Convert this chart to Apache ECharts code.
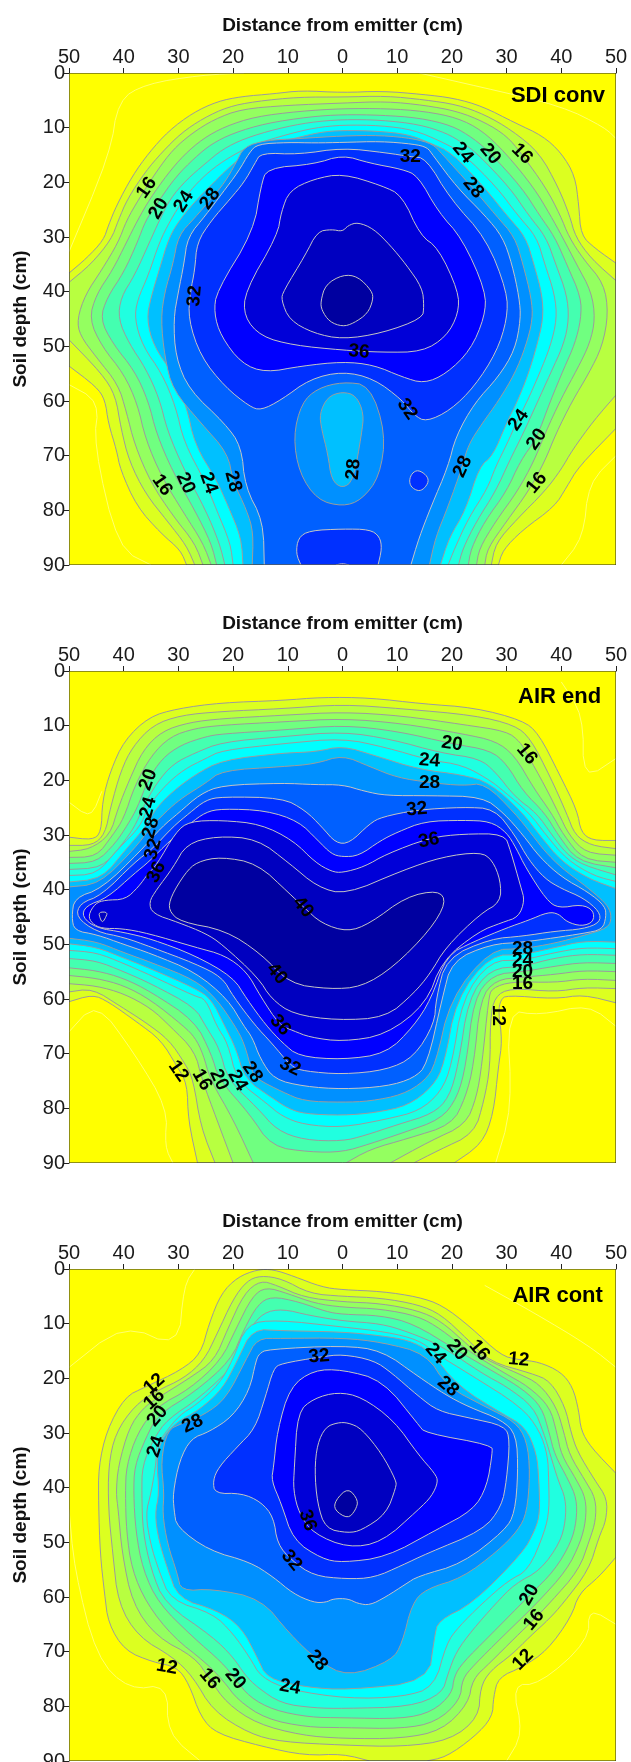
<!DOCTYPE html>
<html><head><meta charset="utf-8">
<style>html,body{margin:0;padding:0;background:#fff}#c{width:631px;height:1762px}</style>
<script src="https://cdn.jsdelivr.net/npm/echarts@6/dist/echarts.min.js"></script>
</head><body><div id="c"></div>
<script>
const xTicks=[-50,-40,-30,-20,-10,0,10,20,30,40,50];
const bandColor={10:'#ffff00',12:'#dcff20',14:'#b8ff40',16:'#94ff60',18:'#70ff80',20:'#44ffb0',22:'#20ffe0',24:'#00ffff',26:'#00c0ff',28:'#0090ff',30:'#0060ff',32:'#0030ff',34:'#0000ff',36:'#0000d8',38:'#0000c0',40:'#0000a0'};

// ---- SDI conv contours [distance, depth] ----
const sdi12=[[-50,36.6],[-46.8,33.9],[-43.7,30.6],[-42.8,27.9],[-41.3,24.2],[-38.4,18.8],[-35.4,14.6],[-31.8,10.6],[-27.4,7.3],[-22.9,5.2],[-18.5,4.3],[-12.6,3.8],[-7.5,3.2],[0,3.6],[7.2,3.3],[14.6,3.9],[20.4,4.6],[25.6,6.1],[31.5,9.1],[36.6,11.5],[40,14.6],[42.5,18.8],[43.2,24.2],[43.6,29.7],[46.2,32.1],[50,34.8],[50,65],[43.2,72],[41,75.7],[38.8,79.3],[32.9,83.6],[29.3,87.3],[28.5,90],[-28.5,90],[-29.6,87.3],[-33.2,84.2],[-37.6,79.3],[-40.6,72.6],[-41.3,69],[-42.8,64.1],[-43.4,59.8],[-45,57.4],[-50,53.6]];
const sdi14=[[-50,38.3],[-46,35],[-42.3,30.5],[-41,27],[-39.3,23],[-36,18],[-33,14.5],[-29.5,11],[-25.5,8.3],[-21,6.2],[-16,5.2],[-8,4.4],[0,4.4],[8,4.2],[15,4.9],[21,5.8],[26,7.6],[31,10.5],[36,14.6],[39.5,21],[41.5,26],[42.6,30],[45.5,34],[50,38],[50,58.9],[46,63.5],[42,69],[40,72.5],[37,76.5],[32,81.5],[28,86],[27.2,90],[-27,90],[-28.5,86.5],[-32,82],[-36,77],[-39,71],[-40.5,65],[-41.5,59],[-44,55],[-50,48.8]];
const sdi16=[[-48.5,45],[-47,40.5],[-44,36],[-41,31],[-39.5,27],[-37.2,23],[-34,18],[-31,14],[-27.5,11],[-23.5,8.5],[-18.5,6.6],[-10,5.9],[0,5.5],[8,5.2],[15,5.9],[21,7],[26,9],[30,11.5],[32.6,14.6],[37.2,21],[39.8,26],[41.4,30],[44,34],[47.8,38.5],[48.6,44],[47.5,50],[45,55],[42,60],[39,66],[37,71],[34,76.5],[30,82],[26.5,87],[26,90],[-25.5,90],[-27,86],[-31,81],[-35,75],[-38,68],[-39.5,62],[-41,57],[-45,52],[-48,48]];
const sdi18=[[-46.3,45],[-45,40.5],[-42,36],[-39.5,31],[-37.5,27],[-35.2,23],[-32,18.5],[-29,15],[-25.5,12],[-21.5,9.8],[-16,8],[-8,7],[0,6.5],[8,6.5],[15,7],[21,8.2],[25.5,10.5],[29.8,14.6],[35,21],[38,26],[40.2,30],[42.8,35],[45.5,40],[46.2,45],[45.2,49.5],[43,54],[40,59.5],[37,66],[35,71],[32,76.5],[28,82],[25,87],[24.5,90],[-24,90],[-25.5,86],[-29,80.5],[-33,74],[-36,67],[-37.5,60.5],[-40,55],[-44,50]];
const sdi20=[[-44.3,45],[-43,41],[-40,36.5],[-37.5,31],[-36,27],[-34,24],[-30.5,19],[-27,15.5],[-24,13],[-20,11],[-14,9.2],[-6,8],[0,7.6],[7,7.7],[14,8.2],[20,9.6],[24,12],[27,14.6],[32.8,21],[36,26],[38.8,30],[41,35],[43.6,41],[43.6,45],[42.5,49.5],[40.5,54],[38,60],[35.5,66.8],[32.5,71],[30,76.5],[26,82],[23.5,87],[23,90],[-23,90],[-24,86],[-27,80],[-31,73],[-34,66],[-35.5,60],[-38,54.5],[-42,49.5]];
const sdi22=[[-41,45],[-40.5,41],[-38,37],[-35.3,31],[-33.5,27],[-31.5,23],[-28.5,19.5],[-25,16.5],[-22,14],[-18,12],[-12,10.2],[-6,9],[0,8.5],[7,8.6],[14,9.4],[19,11],[22,12.8],[24.5,14.6],[30.6,21],[34,26],[37.2,30],[39,35],[41,40.5],[41.4,45],[40.5,49.5],[38,55],[35.5,60.5],[33,66],[30.5,71],[28,76.5],[24.5,82],[22,87],[21.2,90],[-21.5,90],[-22.5,86],[-25,80],[-29,72.5],[-32,65.5],[-33.5,59.5],[-36,54],[-39,49.5]];
const sdi24=[[-38,45],[-37.5,41.5],[-35.5,37],[-33.5,31],[-31.5,27],[-29,23],[-26.5,20],[-23.5,17.3],[-20,15],[-16,13],[-10,11.2],[-5,10],[0,9.5],[7,9.6],[13,10.4],[18,12.5],[21.9,14.6],[28.3,21],[32,26],[35.5,30],[37,35],[38.8,40.5],[39.2,45],[38,50],[36,55],[33.8,60],[32,63.5],[30,68],[28,72],[26.5,76],[23,81.5],[20.5,87],[19.3,90],[-20,90],[-20.5,86],[-23,80],[-25,75],[-29,67.5],[-30.5,61],[-33,55],[-36.5,50]];
const sdi26=[[-35.8,45],[-35,41],[-33.5,36],[-31.7,30],[-29.5,26.5],[-26.5,23],[-23.5,20],[-21,17.5],[-18,15],[-15,13.5],[-9,12],[-4,10.8],[0,10.5],[6,10.6],[12,11.2],[16,12.8],[20,14.6],[26,21],[30,26],[33.5,30],[35,35],[36.5,40.5],[36.7,45],[35.5,50],[34,55],[32,60],[30,64],[27.5,70],[25,72],[22.5,80],[19.5,85],[17.9,90],[-18.2,90],[-18.5,85],[-21,79],[-23,74.5],[-27,68],[-28.5,61],[-31,55],[-34.5,50]];
const sdi28=[[-33.2,45],[-32.5,40],[-31,35],[-30,29.7],[-27,26.5],[-24,23],[-21.5,20],[-19.5,16.5],[-18,13.5],[-14,12.3],[-8,12],[0,11.5],[7,11.4],[13,12],[16.5,13],[18,14.6],[23.8,21],[28,26],[31.5,30],[33,35],[34.5,41],[34.8,45],[33.5,50],[31.5,55],[28.5,60],[25.6,64],[23,68],[21.9,72],[19.3,79.3],[17,85],[15.9,90],[-16.5,90],[-16.3,84],[-17.5,80],[-20,74.7],[-21,69.5],[-25.9,64],[-31,58],[-32.5,52]];
const sdi30=[[-30.9,45],[-30,40],[-29,35],[-28.3,30],[-25,26],[-22,22],[-19,18],[-17,14.5],[-15.5,13],[-10,12.7],[-5,12.8],[0,12.7],[7,12.5],[13,13],[15.5,13.6],[16.5,15],[21,21],[26,26],[29.3,30],[31,35],[32.3,41],[32.6,45],[31.5,50.7],[28.5,55.6],[24.1,60.4],[20.7,66.5],[19.3,72],[16.2,79.3],[14,85],[12.5,90],[-14.3,90],[-14.5,82],[-17.8,75.7],[-18.5,68.3],[-21.5,64.1],[-28,58],[-30.5,52]];
const sdiIsland30=[[0,56.5],[5,57.1],[7.9,65.9],[6.8,73.8],[3.5,78.1],[0,79.3],[-4.6,78.1],[-7.9,73.2],[-9,66.5],[-7.5,60.4],[-4.6,57.7]];
const sdiIsland28=[[0,58.3],[2.5,59],[3.9,62.3],[3.5,66],[2,74.5],[0,76],[-2,74.5],[-2.7,69.6],[-3.8,65.3],[-4.2,62.3],[-2.7,59.2]];
const sdiBlob32a=[[13.8,72.6],[15.3,73.5],[15.8,74.7],[14.9,76.1],[13.8,76.5],[12.5,75.7],[12.2,74.5],[12.7,73.2]];
const sdiBlob32b=[[0,83.4],[5,83.5],[6.8,84.8],[7.2,87],[6.5,90],[-7.6,90],[-8.5,87.9],[-8.1,85],[-6,83.7]];
const sdiBlob34=[[-1.2,90],[0,89.7],[1.2,90]];
const sdi32=[[-28.2,45],[-27.8,40],[-27,36],[-26.6,31],[-24,27],[-20.5,23],[-18,20],[-16,16.5],[-14.9,14.6],[-8,14.9],[0,13.7],[8,14.6],[12.4,15.3],[15.3,15.6],[19.7,23],[26.3,30.3],[30.1,40],[30.1,45],[28.2,51],[24.1,57.4],[19.7,61.7],[15.3,63.8],[13.1,62.6],[10.9,59.8],[5.7,55.9],[0,54.6],[-6,56],[-11.2,59.8],[-14.9,61.7],[-17,61],[-21.5,57.4],[-25.9,51.9]];
const sdi34=[[-23.5,43.9],[-23,39.9],[-16.3,29],[-14.9,20.6],[-13.8,17.4],[-5.3,16.7],[0,15],[5,16.5],[10.9,17.6],[13.8,18.8],[17.5,25.4],[21.9,30.3],[26.2,39.9],[26,44.6],[23.4,50.7],[19,55],[14.9,56.8],[10.9,55.6],[5.7,53.4],[0,52.8],[-7.5,53.6],[-14.1,54.8],[-18.5,53.1],[-22.2,48.2]];
const sdi36=[[-18,44.6],[-17.8,39.9],[-11.9,29.7],[-11.2,25.4],[-9.7,21.5],[-5.3,19.4],[0,18.4],[7.2,20.6],[10.9,22.4],[14.2,29.7],[17.5,32],[21.2,39.9],[21.2,44],[19,48.2],[14.6,51],[7.2,51.1],[0,50.7],[-9,49.8],[-14.9,48.2]];
const sdi38=[[-11.2,41.5],[-10.8,39.9],[-6.8,33.3],[-4.6,29],[-2,28.6],[0,29],[1,27.9],[2.8,27.3],[5.7,28.5],[8.7,31.5],[11.6,35],[14.6,39.3],[14.9,42.7],[14.6,44.9],[7.2,47.6],[0,48.7],[-5.3,47.6],[-9.7,45.2]];
const sdi40=[[-4,41.8],[-3.1,38.7],[0,36.9],[2.8,37.2],[5.4,39.9],[5.6,41.5],[4.6,44],[2,45.8],[0,46.4],[-2.4,45.5],[-3.8,43.4]];

// ---- AIR end contours ----
const air12=[[-50,30.4],[-45.7,30.9],[-44.1,29.5],[-43.9,23.7],[-42.4,18.2],[-39.9,12.7],[-35.4,8.4],[-30.3,6.9],[-22.2,5.8],[-11.2,5.4],[-3.8,4.8],[5,4.9],[14.6,6],[24.1,6.7],[32.9,9],[35.9,11.5],[39.6,18.8],[42.9,25.5],[43.6,29.5],[45.7,31],[50,31],[50,60.7],[44,59.2],[38.8,60],[30,59.3],[28.9,60.2],[28.5,62.4],[29.2,67.6],[28.5,72.4],[27.6,81],[25.5,86.5],[20.4,90],[-26.5,90],[-28.2,82.2],[-28.4,75.5],[-30.2,72.4],[-33.2,67.5],[-37.6,64.2],[-42.8,60.5],[-45.7,59.2],[-50,60.5]];
const air14=[[-50,31.9],[-45.7,31.9],[-43.4,29.8],[-42.4,24.9],[-40.5,18.2],[-38.4,13.9],[-34.7,9.9],[-29.6,8.1],[-22.2,7.4],[-11.2,6.9],[0,6.1],[10.9,6.9],[24.1,8.1],[31.5,9.9],[34.4,12.4],[38,19.4],[41,26.1],[42.5,30],[45.4,31.9],[50,32.5],[50,58.1],[44,57.9],[38.8,58.7],[30.7,58],[27.8,59.6],[27,63.9],[27,72.4],[25.9,78.5],[24.1,84.6],[17.5,87.7],[13,90],[-23.3,90],[-25.9,83.4],[-27.3,74.7],[-28.8,71.8],[-31.7,67.5],[-36.1,64.2],[-40.5,61.4],[-45.7,58.1],[-50,58.7]];
const air16=[[-50,33],[-46.2,32.6],[-42.5,30],[-41,25],[-39,20],[-36.5,14.5],[-33,11],[-28,9.4],[-22,8.7],[-11,8.1],[0,7.5],[11,8.2],[22,9.8],[30,11],[32.5,13],[33.7,15.1],[37,21],[39.5,26],[41.4,30],[44.5,33.3],[50,33.7],[50,56.6],[44,56.3],[38.8,57],[31,56.8],[27.3,58],[26.7,60],[25.5,72],[24.5,78],[22.5,83],[16,86],[8.7,90],[-20,90],[-23,82],[-25.7,74.7],[-27,69.5],[-31.5,65],[-35,61.7],[-40,59],[-45,57.6],[-50,57.2]];
const air18=[[-50,34.1],[-45,34],[-42,30],[-40,27],[-38,21],[-35,15.5],[-31.5,12],[-27,10.5],[-22,9.9],[-11,9.3],[0,8.7],[11,9.6],[22,11.5],[28,12.8],[31.5,15.5],[35,21.5],[38.2,26],[40.4,30],[44,34.5],[50,35],[50,55],[44,54.8],[38.8,55.5],[33,56],[28,56.5],[25.2,60],[24,72],[22.5,78],[20,83],[12,85.5],[5,87.5],[0.6,90],[-16.3,90],[-20,82],[-24.2,74.7],[-25.5,70],[-27,67],[-29,65],[-35,60.2],[-40,57.5],[-45,56.2],[-50,55.7]];
const air20=[[-50,35.2],[-45,35],[-41.5,31.5],[-39.2,28],[-37.5,25],[-35.6,20],[-33,16],[-29.5,13.5],[-25,12],[-22,11.5],[-11,10.8],[0,9.9],[10,11],[20,13.3],[27,14.5],[30,17],[33,22],[37,26],[39.4,30],[43,34.8],[50,36],[50,53.5],[44,53.3],[38.8,54],[33,55],[27.5,55.5],[24,60],[22.6,72],[21,78],[18,82],[11,84.5],[5,86.5],[0,88],[-6,88],[-13,87],[-17,81],[-22.6,74.7],[-24,70],[-27,64],[-35,58.7],[-40,56.2],[-45,54.8],[-50,54.3]];
const air22=[[-50,36.3],[-44,36],[-40.5,32],[-38,28.5],[-36.5,25],[-34,20.5],[-31,17],[-27,15],[-22,13],[-11,12],[0,11.1],[9,12.5],[18,15],[25,16],[28,18.5],[31.5,23],[35.5,26],[38.3,30],[41,33.5],[44,35.5],[50,37.3],[50,52],[44,51.8],[38.8,52.5],[33,54],[27,54.5],[23,60],[21.2,72],[19.5,78],[16.5,81],[10,83],[4,85],[0,86],[-7,85.8],[-12,84],[-15.5,80],[-21,74.7],[-22.5,69],[-25,65],[-27,61.5],[-35,57.2],[-40,55],[-45,53],[-50,52.6]];
const air24=[[-50,37.4],[-45,37.2],[-41,32.5],[-37,28.5],[-35.6,24.9],[-32.5,21],[-29,18],[-25,16],[-22,14.5],[-11,13.3],[0,12.3],[8,14],[15.9,16.3],[22,17.2],[27,20],[29.5,22],[34.2,26],[37.2,30],[41,34.5],[46,37.5],[50,38.5],[50,50.8],[44,50.6],[38.8,51.5],[33,52.9],[27,53],[21.9,60],[20,72],[18,77],[14,80.5],[8,82],[0,83.5],[-7,83],[-11,81.5],[-14,79],[-19.3,74.9],[-21,68],[-23,65],[-25,60],[-27,59.5],[-35,55.7],[-40,53.5],[-45,51.5],[-50,51.1]];
const air26=[[-50,38.6],[-44,38],[-39.5,32.5],[-36,28.5],[-34,25],[-31,22],[-27,19],[-22,16.3],[-11,15],[-5,14.8],[0,13.7],[6,15.5],[14,18],[22,19],[27,20.5],[33,26],[36,30],[40,34.8],[45,38],[50,39.8],[50,49.6],[44,49.4],[38.8,50.6],[33,51.9],[27,52],[20.8,60],[18.6,72],[16.5,76],[12,79.5],[6,80.8],[0,81.3],[-7,81],[-10,80],[-13,78],[-17.8,74.7],[-19.5,69],[-21.5,65],[-24,60],[-27,58],[-35,54.5],[-40,52.5],[-45,50.5],[-50,49.9]];
const air28=[[-50,39.5],[-44.5,39],[-38,32.5],[-35,28.5],[-31.5,25],[-29,23],[-25,20.5],[-22,18.2],[-11,17.5],[-5,17],[0,15.4],[5,17.5],[10,19.5],[15.9,20.4],[22,21],[26,20.5],[31.5,26],[34.7,30],[37,33],[40,36],[44,39],[46.8,41.3],[48.6,43.1],[49.2,45],[48.6,47],[44,48.4],[38.8,49.8],[33,50.8],[27,51],[19.7,60],[17,72],[15,75],[11,77.5],[5,78.7],[0,78.9],[-7,78.7],[-11,77],[-15.5,74.7],[-16.5,73.4],[-18,68],[-19.6,65],[-23,60],[-27,56.5],[-35,53.3],[-40,51.5],[-45,49.5],[-50,48.9]];
const air30=[[-49.5,45],[-49,41.5],[-44,39.8],[-37,33],[-33,28.5],[-30,26],[-26,22.5],[-22,20.9],[-11,20.5],[-5,20.8],[0,20.8],[4,22],[8,22.8],[16,22.8],[25.6,23],[29.5,26],[33,30],[36,34],[40,37.7],[45,40.5],[48,43],[48.2,45],[47.5,47.3],[44,48],[38.8,48.8],[33,49.6],[27,50],[20,53],[18.2,60],[15.5,72],[13,74.5],[8,76],[0,76.5],[-7,76],[-12.5,74.7],[-15,71],[-16.5,67],[-18,65],[-21,60],[-27,55],[-35,51.7],[-40,50],[-45,48.2],[-49,47.5]];
const air32=[[-48.7,45],[-48,42.5],[-44,41],[-38,35],[-34.7,32.5],[-31,28.5],[-28,26],[-25,23.6],[-22,23],[-11,23.2],[-6.8,25.5],[-3.8,28.5],[-1.2,31.5],[1.3,31.5],[5,27.9],[7.2,26.7],[13.6,25.4],[22,24.9],[27.8,25.2],[31.5,30],[34,34.5],[37,38],[40,39.8],[44,41.5],[47,44],[47.1,46],[44,47.2],[38.8,47.6],[33,48.5],[27,49],[19,52.5],[17.1,60],[16.8,64.5],[13.1,70.6],[8,73],[0,73.8],[-7,73.2],[-9.3,72.4],[-13,68],[-16,64.8],[-20,59.5],[-22,56],[-27,53.5],[-35,50.5],[-40,48.7],[-45,47.7]];
const air34=[[-47.6,45],[-47,43],[-43,41.5],[-38,37],[-35.5,35],[-31.5,31],[-28,28],[-25,25.8],[-22,25.2],[-14,25.5],[-8,27.5],[-4.5,31],[-2,33.5],[0,34],[3,33.8],[7,31],[10,29.5],[15,27.5],[22,27.3],[27,27.5],[30,29.5],[31.8,32.5],[33.5,36],[37.3,41.9],[39.5,43.4],[43.7,42.7],[45.9,43.8],[45.9,45.9],[43.7,46.7],[41,45.9],[39.5,44.4],[37.6,44.1],[34,45.6],[30,47],[24,49.5],[19,52],[16.2,60],[13,65],[8,70],[0,71.1],[-8,70.5],[-11,68],[-14,64.8],[-17.5,60],[-20,56],[-27,52],[-35,49],[-40,47.8],[-45,47]];
const air36=[[-46.5,44.7],[-45.2,42.5],[-43.4,41.9],[-39.7,41.8],[-37.3,39.5],[-35.5,37],[-34,35.5],[-30.5,29.5],[-28,27.5],[-22,27.3],[-15,28],[-9,31],[-5,35],[-2,36.7],[0,36.9],[4,35.8],[8,33.5],[15.9,30.5],[22,29.8],[29.6,29.8],[30.7,32.8],[32.6,39.5],[33.3,42],[32.2,45],[29.2,46],[24.8,47.7],[18.2,53],[15.3,60.9],[7.9,66.6],[0,67.8],[-6,67],[-9,65.8],[-11.5,64.8],[-15,59.5],[-17.5,55],[-21.5,52],[-27,50.5],[-35.5,48],[-40.3,47.1],[-44,47.1],[-45.8,46.2]];
const air38=[[-35.4,42.3],[-34.7,44.4],[-30,46],[-25,48],[-22,50],[-15.5,56],[-13,60],[-9,62.8],[-1,63.9],[7.9,63.4],[13,59],[16,55.4],[18.9,50.5],[25.2,44.4],[28.9,42.3],[28.9,38.3],[27.4,34.6],[25.2,33.1],[18.2,34],[10.9,36.5],[0.6,40.9],[-4.6,39.5],[-9.7,35.2],[-15.6,30.7],[-23,30.2],[-28.5,31.6],[-31,36],[-34,40]];
const air38b=[[-44.6,44.1],[-42.9,44.1],[-43.4,45.3],[-43.9,46],[-44.3,45.3]];
const air40=[[-31.4,41.3],[-28.8,37],[-26.6,34.9],[-22.2,34],[-15.6,35.2],[-9.7,40.7],[-7.1,43.2],[-3.8,46.2],[0.9,47.7],[5,46.2],[11.6,41.3],[17.5,40.1],[19,42.3],[16,47.4],[9.4,54.1],[3.5,57.8],[-2.4,58.2],[-9.7,57.2],[-14.9,51.7],[-21.5,47.4],[-29.6,45.9],[-31.8,43.8]];

// ---- AIR cont contours ----
const pc12=[[-15.6,0.1],[-12.6,0.1],[-9,1.3],[-3.8,3.3],[0,3.8],[7.2,4.1],[13.8,5.1],[18.2,6.6],[23.4,10.6],[28.9,15.8],[32.2,16.6],[35.9,17],[39.9,18.8],[42.1,21.6],[43.2,25.9],[43.6,29.5],[45.4,32.6],[50,37.4],[50,52.7],[46.9,56.3],[43.2,59.4],[41.8,63.7],[37.4,69.8],[32.9,72.8],[28.5,74.7],[27.6,78.3],[27.4,82],[24.1,85.6],[18.9,89.3],[15.3,90],[5,90],[0,88.7],[-6.8,89],[-14.9,87.3],[-23,85],[-25.9,82],[-28.1,75.8],[-30.3,72.8],[-34.7,71.9],[-39.8,69.8],[-42.8,64.9],[-43.5,59.4],[-44.3,52.1],[-44.6,43],[-44.6,36.2],[-43.1,29.5],[-39.8,23.4],[-36.1,21.6],[-29.5,18.5],[-25.9,15.5],[-24.4,10],[-22.2,4.5],[-19.2,1.5]];
const pc14=[[-42.8,44],[-42.8,36],[-41.5,30],[-38,25],[-34,22.3],[-29,20],[-25.3,16.7],[-23,12],[-20,5.5],[-17.5,2.2],[-15,1.2],[-11,1.8],[-6,4.5],[0,5],[7,5.3],[13.8,6.5],[18,8.3],[23,13],[27,17],[34.6,19.1],[38,20.5],[40.7,25.2],[41.8,30],[43,33.5],[46.1,38.6],[48.4,42],[48.2,46],[46.9,49],[45,55.1],[40.3,61.2],[37.8,64],[34.2,67.3],[31,70.5],[27,73.5],[25.2,76.5],[24.9,82],[19.7,86.2],[10.9,87.4],[0,87.1],[-11.2,86.5],[-17,85],[-23.7,80.8],[-27.4,74.5],[-31,71],[-37.3,67.3],[-41,61.2],[-42,52]];
const pc16=[[-41,44],[-41.4,41],[-41,36],[-39,29],[-36.5,25.5],[-34,23.7],[-28,20],[-23.4,16.7],[-21,11],[-18,4.5],[-15,2.1],[-12,3],[-7,5.2],[0,6],[7,6.3],[13.8,7.6],[18,9.5],[23,14],[26,16.5],[32.1,19.1],[36,21],[39.1,25.2],[40.5,30],[41.5,34],[44.3,38.6],[46.3,42],[46.3,46],[45.2,49.5],[43.2,55.1],[38,61],[34.8,64.3],[31.7,67.3],[27,72],[23.8,75],[23,79.5],[18.2,84.4],[10.9,85.9],[0,85.9],[-7.5,85.3],[-15.6,83.2],[-21.1,79.5],[-24.3,75],[-27,71],[-34,67.3],[-38.4,61.2],[-40.3,52]];
const pc18=[[-39.7,41],[-39.5,36],[-37.5,30],[-34,25.2],[-28,22],[-22.2,16.7],[-19.5,11],[-16.5,5],[-14,3.3],[-10,4.5],[-5,6.3],[0,7],[7,7.3],[13.8,8.6],[18,11],[23,15],[29.7,19.1],[34,21.5],[37.9,25.2],[39.2,30],[40,34],[42.8,38.6],[44.5,42],[44.5,46],[43.5,50],[41,55.1],[35.5,61.2],[29.2,67.3],[24,72.5],[21.9,75],[21.5,78.9],[17.1,82.9],[10.9,84.1],[0,83.9],[-6.6,83.8],[-14,82.3],[-19.1,78.9],[-21.8,75.3],[-25,72],[-31,67.3],[-35.8,61.2],[-38.5,55],[-39.5,48]];
const pc20=[[-38.2,41],[-38,36],[-36,31],[-33.8,26.7],[-27,22.5],[-20.4,16.7],[-18,11],[-15.5,6.5],[-13,5],[-8,6],[-3,7.8],[0,8.3],[7,8.5],[13,10],[20.8,14.8],[28.2,19.1],[33,22],[36.4,25.2],[37.8,30],[38.8,34],[41.3,38.6],[42.8,42],[42.8,46],[41.8,50],[38.8,55.1],[34.4,59.5],[26.7,67.3],[22,72],[20.4,74.5],[20,77.7],[16.4,81],[10.9,82.3],[0,82.1],[-6,82],[-12.6,80.7],[-17,78.3],[-19.6,75],[-22,72],[-27.4,67.3],[-33.6,61.2],[-36.5,55],[-37.8,48]];
const pc22=[[-36.7,41],[-36.6,36],[-34.5,31],[-32,27.5],[-26,23.5],[-18.9,16.7],[-17,11],[-14.5,8],[-11,7.3],[-6,8.5],[0,9.5],[7,10],[12,11.5],[18,14],[25.5,19.1],[30,21.5],[34.9,25.2],[36.8,30],[38,34],[39.4,38.6],[40.8,42],[40.8,46],[39.8,50],[36.2,55.1],[31.5,57.6],[28,61.2],[23.7,66.1],[20.8,70],[19.3,74],[18.2,77.7],[12.3,80.1],[0,80.4],[-5.1,80.3],[-11.2,79.5],[-15.6,76.5],[-17.8,74.3],[-20,71],[-23.7,67.3],[-32.5,61.2],[-35,55],[-36.5,48]];
const pc24=[[-36,44.8],[-35,41],[-34,35],[-34.1,32.5],[-32.6,30.2],[-29.8,26.7],[-26.8,24.9],[-22.5,21],[-20.1,16.7],[-17.5,10],[-12,9.3],[0,10.6],[8,11.5],[14,13],[17.1,15.5],[23,19.1],[32.7,25.2],[36,29.5],[37.5,34],[37.7,38.6],[37.8,44],[37,48],[34,55.1],[30.3,57],[25.5,61.2],[21.2,65.5],[19,68.5],[16.8,76.5],[10.9,78.3],[1,78.6],[-9.7,77],[-14.9,74.7],[-17,71],[-20,66.7],[-23.7,63],[-31.4,60.6],[-33.6,55.1],[-35.1,50.3]];
const pc26=[[-34.3,44.8],[-33.5,41],[-34,35],[-33.2,31.3],[-30.4,28],[-26.2,25.8],[-21.9,21.9],[-19.2,16.7],[-16.5,11],[-11,11.3],[0,11.5],[7,12.2],[12,13],[16,15],[21.2,21.5],[29.1,26.4],[33.4,28.8],[35.5,33.7],[35.9,38.6],[36.1,44.6],[35.2,47.8],[32.9,52],[23.8,61.2],[17.5,64.3],[16.8,67.3],[15.7,75.5],[1,77],[-6.8,76.5],[-13.8,74.9],[-15.6,71],[-18.5,65.5],[-23,62.4],[-30,60.3],[-32.1,54.5],[-33.6,49.6]];
const pc28=[[-32.9,44.8],[-32.6,41],[-33.2,35],[-32,29.5],[-29.5,28.3],[-25.3,26.7],[-21.3,23.7],[-17.7,16.7],[-15.6,12.7],[-11.2,12.7],[0,12.6],[7.2,13.4],[15.3,15.5],[19.1,21.5],[26.1,25.2],[31.5,27.9],[33.7,31.3],[34.3,37.3],[33.7,44.6],[32.1,47.8],[28.5,51.5],[21.9,56.5],[15.3,58.5],[12.7,61.2],[10.9,68.5],[9,71.6],[1,74.6],[-4.6,71.6],[-9.7,66.7],[-14.9,60.3],[-23.7,58.5],[-29.5,58.9],[-30.2,55.7],[-32,50.3]];
const pc30=[[-30.8,44.1],[-31,41],[-29.8,35],[-27.7,31],[-24.4,29.8],[-20.1,27],[-17,22.2],[-15.8,16.7],[-15.2,15.5],[-13.8,14.7],[0,14],[7.2,14.9],[13.9,19.7],[18.8,23],[23,25.2],[29.1,27.6],[31.8,30.3],[32.1,37.3],[31.5,44.6],[29.7,47.8],[21.9,53.9],[13.8,56.2],[11.6,57.6],[7.9,60],[5,61.5],[2.8,61.2],[1,60.3],[-1.6,60.3],[-3.1,61],[-5.3,61],[-9,59.4],[-12.7,56.3],[-16.9,53.6],[-24.4,51.5],[-30.3,47.2]];
const pc32=[[-22.6,36.2],[-19.3,32.6],[-16,29.2],[-14.1,23.4],[-12.6,18.2],[-11.2,17.3],[-4.2,16.1],[0,15.6],[5.7,16.7],[9,19],[13.9,23.3],[17.5,26],[23,27.2],[29.7,28.7],[30.6,31.3],[30,38.6],[29.1,43.4],[25.7,47.8],[15.3,52.1],[10.9,54.2],[5.7,56.5],[0.6,56.7],[-5.3,56.1],[-9.3,53.3],[-11.9,50.3],[-12.6,45.4],[-14.9,42.6],[-18.5,41],[-23.3,41.1],[-23.7,38.7]];
const pc34=[[0,18.4],[-5.3,18.5],[-9.6,21.6],[-11.9,29.5],[-12.6,36.2],[-13,38.7],[-11.2,42.9],[-9,49.6],[-3.8,53],[0,53.7],[8,52.7],[17,47.8],[23.9,44.1],[26.4,39.8],[27.4,33.7],[27.3,32.2],[15.1,30],[13.9,28.5],[7.4,20.4]];
const pc36=[[-0.9,22.5],[3.5,23.4],[9.4,27.7],[13.9,34],[16.9,37.4],[17.5,38.9],[16.3,41.6],[13.9,44],[7.2,50],[1,51],[-5.3,48.4],[-7.9,44.8],[-9,40.5],[-8.8,36.2],[-8.2,26.2],[-5.3,23.7]];
const pc38=[[-0.9,28.1],[1,28.1],[3.5,29.2],[7.2,33.8],[9.8,38.7],[9.8,39.9],[8,44.8],[3.5,47.8],[1,48.3],[-3.1,47.5],[-4.6,42.9],[-5.1,36.8],[-4.6,32],[-3.1,28.9]];
const pc40=[[1,40],[2.9,42.3],[2.4,44.1],[1,45.7],[-1.5,44.1],[-1.3,42.3]];

// ---- faint 10 contours inside the yellow ----
const sdiFaint=[[[-50,32.7],[-42.5,14.8],[-41,5],[-36,2],[-26,0.4],[-18,0]],[[14,0],[25,2.5],[40,6],[48,10],[50,12]],[[-50,57],[-44.5,60],[-45.5,68],[-41,87],[-35,90]],[[50,70],[45,75],[44,85],[40,90]]];
const airFaint=[[[-50,24],[-46,27],[-44,22]],[[50,16],[44,20],[44,8],[40,2]],[[-50,66],[-45,60.5],[-38,70],[-32,80],[-32.5,87],[-31,90]],[[50,65],[45,61],[36,63],[30,62],[31,80],[28,90]]];
const pcFaint=[[[-50,18],[-40,10],[-30,14.5],[-29,3],[-27,0]],[[26,3],[35,8],[45,14],[50,18]],[[-50,44],[-49,55],[-45,71],[-39,77],[-32,76],[-32,85],[-26,90]],[[50,65],[45,62],[45,68],[36,76],[31,76],[33,85],[30,90]]];

// ---- contour labels: distance, depth, text, angle ----
const sdiLabels=[[32.8,14.8,'16',-45],[27,14.8,'20',-50],[22,14.6,'24',-50],[23.9,21,'28',-50],[12.4,15.4,'32',0],[-35.8,21,'16',55],[-33.6,24.8,'20',60],[-29,23.5,'24',58],[-24.2,23,'28',55],[-27,40.8,'32',85],[3,51,'36',-5],[11.8,61.5,'32',-55],[2,72.5,'28',85],[22,72,'28',65],[32.2,63.5,'24',55],[35.5,67,'20',55],[35.5,75,'16',50],[-33,75.4,'16',-55],[-28.7,75,'20',-65],[-24.5,75,'24',-70],[-20,74.7,'28',-75]];
const airLabels=[[20,13.3,'20',-8],[15.9,16.4,'24',-5],[15.9,20.4,'28',0],[13.6,25.3,'32',5],[15.8,31,'36',10],[33.7,15.2,'16',-50],[-35.5,19.9,'20',70],[-35.5,25,'24',75],[-35,28.7,'28',75],[-34.6,32.6,'32',75],[-34,36.8,'36',65],[-7.2,43.2,'40',-50],[-12,55.4,'40',-50],[-11.4,64.8,'36',-50],[-9.6,72.4,'32',-25],[-30,73.2,'12',-55],[-25.7,74.8,'16',-60],[-22.6,74.8,'20',-65],[-19.2,74.9,'24',-60],[-16.5,73.4,'28',-55],[32.9,50.8,'28',0],[32.9,53,'24',0],[32.9,55,'20',0],[32.9,57.2,'16',0],[28.5,63,'12',-90]];
const pcLabels=[[-34.4,21,'12',42],[-34.4,23.9,'16',42],[-33.8,26.9,'20',50],[-34.1,32.5,'24',72],[-27.4,28.3,'28',25],[-4.3,16,'32',5],[17,15.5,'24',-50],[20.9,14.8,'20',-50],[25,14.9,'16',-50],[32.2,16.6,'12',-5],[19.3,21.5,'28',-40],[-6.4,46,'36',-70],[-9.3,53.3,'32',-50],[-4.6,71.6,'28',-50],[-9.6,76.5,'24',-10],[-19.6,75,'20',-50],[-24.3,75,'16',-50],[-32.1,72.8,'12',-10],[33,71.5,'12',45],[35,64.2,'16',50],[34.2,59.6,'20',60]];

const panels=[
 {name:'SDI conv',nameAt:[48,4.2],top:73,labels:sdiLabels,faint:sdiFaint,layers:[
  [sdi12,12],[sdi14,14],[sdi16,16],[sdi18,18],[sdi20,20],[sdi22,22],[sdi24,24],[sdi26,26],[sdi28,28],[sdi30,30],
  [sdiIsland30,28],[sdiIsland28,26],[sdiBlob32a,32],[sdiBlob32b,32],[sdiBlob34,34],
  [sdi32,32],[sdi34,34],[sdi36,36],[sdi38,38],[sdi40,40]]},
 {name:'AIR end',nameAt:[47.3,4.7],top:671,labels:airLabels,faint:airFaint,layers:[
  [air12,12],[air14,14],[air16,16],[air18,18],[air20,20],[air22,22],[air24,24],[air26,26],[air28,28],[air30,30],[air32,32],[air34,34],[air36,36],[air38,38],[air38b,38],[air40,40]]},
 {name:'AIR cont',nameAt:[47.6,5],top:1269,labels:pcLabels,faint:pcFaint,layers:[
  [pc12,12],[pc14,14],[pc16,16],[pc18,18],[pc20,20],[pc22,22],[pc24,24],[pc26,26],[pc28,28],[pc30,30],[pc32,32],[pc34,34],[pc36,36],[pc38,38],[pc40,40]]}
];

function pinned(p){return Math.abs(p[0])>=50||p[1]>=90||p[1]<=0;}
function smoothClosed(pts,n){
  let cur=pts;
  for(let k=0;k<n;k++){
    const out=[];const L=cur.length;
    for(let i=0;i<L;i++){
      const a=cur[(i+L-1)%L],b=cur[i],c=cur[(i+1)%L];
      if(pinned(b)){out.push(b);continue;}
      out.push([.25*a[0]+.75*b[0],.25*a[1]+.75*b[1]]);
      out.push([.75*b[0]+.25*c[0],.75*b[1]+.25*c[1]]);
    }
    cur=out;
  }
  return cur;
}
function smoothOpen(pts,n){
  let cur=pts;
  for(let k=0;k<n;k++){
    const out=[cur[0]];
    for(let i=1;i<cur.length-1;i++){
      const a=cur[i-1],b=cur[i],c=cur[i+1];
      out.push([.25*a[0]+.75*b[0],.25*a[1]+.75*b[1]]);
      out.push([.75*b[0]+.25*c[0],.75*b[1]+.25*c[1]]);
    }
    out.push(cur[cur.length-1]);cur=out;
  }
  return cur;
}

const grids=[],xAxes=[],yAxes=[],series=[];
const axisText='#1a1a1a';
panels.forEach((P,i)=>{
  grids.push({left:69,width:547,top:P.top,height:492,show:false,outerBoundsMode:'none',containLabel:false});
  xAxes.push({gridIndex:i,type:'value',position:'top',min:-50,max:50,interval:10,
    name:'Distance from emitter (cm)',nameLocation:'center',nameGap:38,
    nameTextStyle:{fontFamily:'Liberation Sans',fontWeight:'bold',fontSize:19,color:'#111'},
    axisLine:{show:true,onZero:false,lineStyle:{color:'#222',width:1}},axisTick:{show:true,length:5,lineStyle:{color:'#222'}},
    axisLabel:{fontFamily:'Liberation Sans',fontSize:20,color:axisText,margin:6,formatter:v=>String(Math.abs(v)),showMinLabel:true,showMaxLabel:true,hideOverlap:false},
    splitLine:{show:false}});
  yAxes.push({gridIndex:i,type:'value',inverse:true,min:0,max:90,interval:10,
    name:'Soil depth (cm)',nameLocation:'center',nameGap:39,
    nameTextStyle:{fontFamily:'Liberation Sans',fontWeight:'bold',fontSize:19,color:'#111'},
    axisLine:{show:true,onZero:false,lineStyle:{color:'#222',width:1}},axisTick:{show:true,length:5,lineStyle:{color:'#222'}},
    axisLabel:{fontFamily:'Liberation Sans',fontSize:20,color:axisText,margin:4,showMinLabel:true,showMaxLabel:true,hideOverlap:false},
    splitLine:{show:false}});
  const items=[{k:'bg'}];
  P.faint.forEach(f=>items.push({k:'faint',pts:f}));
  P.layers.forEach(l=>items.push({k:'poly',pts:l[0],band:l[1]}));
  P.labels.forEach(l=>items.push({k:'lab',l}));
  items.push({k:'name'});
  items.push({k:'frame'});
  series.push({type:'custom',coordinateSystem:'cartesian2d',xAxisIndex:i,yAxisIndex:i,clip:true,silent:true,animation:false,
    data:items.map((_,j)=>[j]),encode:{x:0,y:0},
    renderItem:(params,api)=>{
      const it=items[params.dataIndex];
      if(it.k==='bg'||it.k==='frame'){
        const a=api.coord([-50,0]),b=api.coord([50,90]);
        return {type:'rect',shape:{x:a[0],y:a[1],width:b[0]-a[0],height:b[1]-a[1]},
          style:it.k==='bg'?{fill:bandColor[10]}:{fill:'none',stroke:'#222',lineWidth:1},z2:it.k==='bg'?0:100};
      }
      if(it.k==='faint'){
        return {type:'polyline',shape:{points:smoothOpen(it.pts,2).map(p=>api.coord(p))},style:{fill:'none',stroke:'#ffff70',lineWidth:1},z2:1};
      }
      if(it.k==='poly'){
        return {type:'polygon',shape:{points:smoothClosed(it.pts,2).map(p=>api.coord(p))},
          style:{fill:bandColor[it.band],stroke:it.band>=30?'#c4c4c4':'#9c9c9c',lineWidth:1},z2:2+params.dataIndex};
      }
      if(it.k==='lab'){
        const c=api.coord([it.l[0],it.l[1]]);
        return {type:'text',x:c[0],y:c[1],rotation:it.l[3]*Math.PI/180,z2:90,
          style:{text:it.l[2],font:'bold 19px "Liberation Sans"',fill:'#000',align:'center',verticalAlign:'middle'}};
      }
      const c=api.coord(P.nameAt);
      return {type:'text',x:c[0],y:c[1],z2:90,
        style:{text:P.name,font:'bold 22px "Liberation Sans"',fill:'#000',align:'right',verticalAlign:'middle'}};
    }});
});
const chart=echarts.init(document.getElementById('c'),null,{renderer:'canvas'});
chart.setOption({animation:false,backgroundColor:'#fff',grid:grids,xAxis:xAxes,yAxis:yAxes,series});
</script></body></html>
